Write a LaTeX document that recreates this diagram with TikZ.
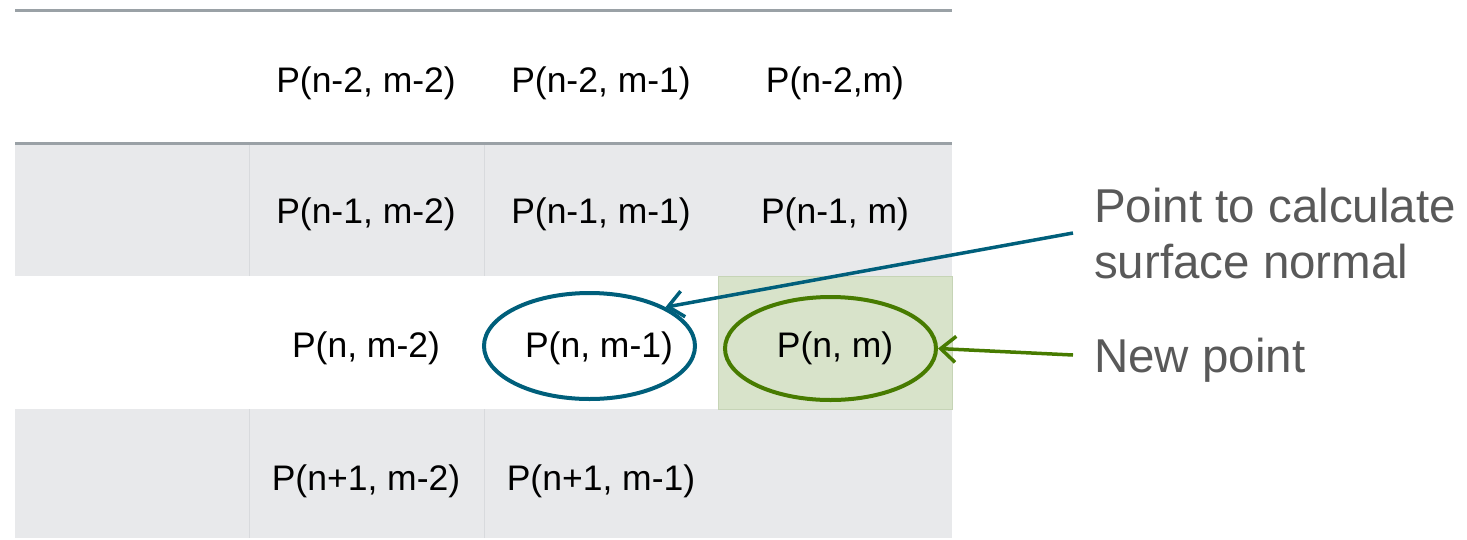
\documentclass[tikz,border=0pt]{standalone}
\usepackage{fontspec}
\setmainfont{Liberation Sans}
\usetikzlibrary{shapes.geometric,arrows.meta}
\definecolor{rowgray}{HTML}{E8E9EB}
\definecolor{rulegray}{HTML}{9AA1A6}
\definecolor{divgray}{HTML}{D8DADD}
\definecolor{cellgreen}{HTML}{D8E3CA}
\definecolor{cellgreenb}{HTML}{C6D4B6}
\definecolor{tealblue}{HTML}{005F7B}
\definecolor{leafgreen}{HTML}{477B00}
\definecolor{labelgray}{HTML}{595959}
\begin{document}
\begin{tikzpicture}[x=1pt,y=-1pt,
  cell/.style={anchor=base,inner sep=0pt,font=\fontsize{35.5}{42}\selectfont,text=black},
  lbl/.style={anchor=base west,inner sep=0pt,font=\fontsize{47.5}{56}\selectfont,text=labelgray},
  ring/.style={ellipse,draw,line width=4pt,inner sep=0pt},
  pointer/.style={line width=3.5pt,-{Straight Barb[length=15pt,width=26pt,line width=3.5pt]}}]
\useasboundingbox (0,0) rectangle (1467,539);
% backgrounds
\fill[rowgray] (15,143) rectangle (952,276);
\fill[rowgray] (15,409) rectangle (952,538);
\filldraw[fill=cellgreen,draw=cellgreenb,line width=1pt] (718,276) rectangle (952,409);
% dividers
\draw[divgray,line width=1pt] (249,145) -- (249,276) (484,145) -- (484,276);
\draw[divgray,line width=1pt] (249,409) -- (249,538) (484,409) -- (484,538);
% rules
\draw[rulegray,line width=3pt] (15,10.5) -- (952,10.5);
\draw[rulegray,line width=3pt] (15,143.5) -- (952,143.5);
% cell texts
\node[cell] (a1) at (366,92) {P(n-2, m-2)};
\node[cell] (a2) at (601,92) {P(n-2, m-1)};
\node[cell] (a3) at (835,92) {P(n-2,m)};
\node[cell] (b1) at (366,223) {P(n-1, m-2)};
\node[cell] (b2) at (601,223) {P(n-1, m-1)};
\node[cell] (b3) at (835,223) {P(n-1, m)};
\node[cell] (c1) at (366,357) {P(n, m-2)};
\node[cell] (c2) at (599,357) {P(n, m-1)};
\node[cell] (c3) at (835,357) {P(n, m)};
\node[cell] (d1) at (366,490) {P(n+1, m-2)};
\node[cell] (d2) at (601,490) {P(n+1, m-1)};
% ellipses
\node[ring,draw=tealblue,minimum width=211pt,minimum height=106pt] (e1) at (589.5,346) {};
\node[ring,draw=leafgreen,minimum width=211pt,minimum height=103pt] (e2) at (830.5,348.5) {};
% labels
\node[lbl] (l1) at (1094,222) {Point to calculate};
\node[lbl] (l1b) at (1094,278) {surface normal};
\node[lbl] (l2) at (1094,372) {New point};
\coordinate (s1) at (1073,233);
\coordinate (s2) at (1073,355);
% arrows
\draw[pointer,tealblue] (s1) -- (e1.north east);
\draw[pointer,leafgreen] (s2) -- (e2.east);
\end{tikzpicture}
\end{document}
